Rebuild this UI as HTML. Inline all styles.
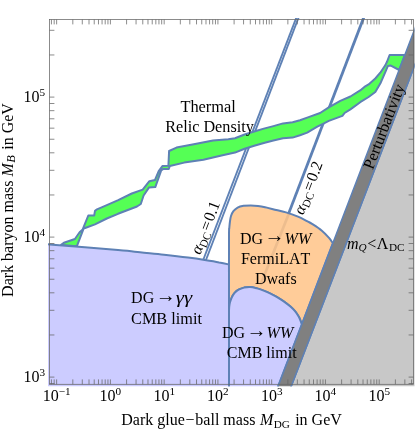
<!DOCTYPE html>
<html><head><meta charset="utf-8"><title>plot</title>
<style>html,body{margin:0;padding:0;background:#fff}svg{display:block}text{font-kerning:none}</style></head>
<body>
<svg width="417" height="430" viewBox="0 0 417 430">
<rect width="417" height="430" fill="#fff"/>
<defs><clipPath id="c"><rect x="48.0" y="18.0" width="366.5" height="368.3"/></clipPath><filter id="g" x="0" y="0" width="417" height="430" filterUnits="userSpaceOnUse" color-interpolation-filters="sRGB"><feOffset dx="0" dy="0"/></filter></defs>
<g clip-path="url(#c)" stroke-linejoin="round" stroke-linecap="butt">
<line x1="296.85" y1="16.30" x2="202.99" y2="260.50" stroke="#5E81B5" stroke-width="1.9"/>
<line x1="299.05" y1="16.30" x2="205.79" y2="260.50" stroke="#5E81B5" stroke-width="1.9"/>
<line x1="363.80" y1="16.20" x2="288.40" y2="213.00" stroke="#5E81B5" stroke-width="2.0"/>
<line x1="364.70" y1="16.20" x2="289.30" y2="213.00" stroke="#5E81B5" stroke-width="2.0"/>
<path d="M61.1,244.9 L63.9,242.8 L74.9,239.0 L79.6,232.3 L82.7,229.4 L88.3,215.5 L94.2,215.5 L95.0,210.9 L97.0,209.3 L105.1,205.9 L118.2,200.2 L131.8,193.5 L142.7,189.6 L149.4,181.2 L155.0,180.0 L158.7,171.1 L162.4,166.1 L168.4,165.8 L169.1,151.0 L176.5,147.6 L193.8,144.3 L213.0,140.5 L228.3,139.2 L235.0,138.2 L244.6,134.5 L254.2,131.5 L263.8,128.6 L273.4,126.1 L283.0,123.4 L292.6,122.2 L300.0,120.2 L308.6,117.1 L320.1,113.0 L328.8,107.3 L340.3,100.8 L350.4,96.5 L360.2,90.4 L364.4,86.9 L368.6,84.4 L375.3,78.5 L380.3,72.7 L385.4,65.1 L387.0,61.8 L389.6,55.0 L404.8,55.0 L399.2,70.0 L390.4,65.4 L387.9,65.9 L385.4,71.8 L380.3,83.6 L375.3,92.0 L368.6,97.0 L360.2,102.2 L350.4,109.4 L344.6,113.0 L342.4,115.9 L340.3,116.6 L328.8,120.9 L323.0,123.8 L317.3,126.7 L307.2,132.6 L300.0,135.2 L292.6,137.6 L283.0,138.2 L273.4,140.5 L263.8,143.0 L254.2,145.8 L244.6,148.7 L235.0,152.6 L222.6,155.3 L203.4,159.7 L184.2,162.6 L169.8,166.0 L168.8,168.9 L163.4,168.9 L161.2,170.3 L155.3,187.1 L148.9,187.6 L143.6,195.5 L140.8,204.0 L137.0,206.5 L118.0,213.8 L106.8,218.5 L95.0,224.4 L85.8,227.7 L83.6,228.6 L76.9,246.2 Z" fill="#55FF55" stroke="#5E81B5" stroke-width="2.0"/>
<path d="M45.0,244.0 C45.8,244.1 37.4,243.4 49.6,244.4 C61.8,245.4 102.9,248.8 118.0,250.1 C133.1,251.4 132.3,251.5 140.0,252.3 C147.7,253.1 156.0,253.8 164.0,254.7 C172.0,255.6 181.2,256.7 188.0,257.6 C194.8,258.5 199.5,259.2 204.7,260.0 C209.9,260.8 215.0,261.6 219.1,262.4 C223.2,263.1 227.3,264.1 229.0,264.5 L229.0,390 L45,390 Z" fill="#CCCCFF" stroke="#5E81B5" stroke-width="2.0"/>
<path d="M229.0,300.0 C229.0,289.3 228.9,248.0 229.0,236.0 C229.1,224.0 229.2,230.3 229.3,228.0 C229.5,225.7 229.6,224.0 229.9,222.0 C230.2,220.0 230.4,217.8 231.0,216.0 C231.6,214.2 232.3,212.6 233.4,211.2 C234.5,209.8 235.9,208.5 237.6,207.6 C239.3,206.7 241.4,206.2 243.6,205.8 C245.8,205.4 248.4,205.4 250.8,205.4 C253.2,205.4 255.6,205.6 258.0,205.9 C260.4,206.2 262.5,206.6 265.0,207.2 C267.5,207.8 269.5,208.3 273.0,209.2 C276.5,210.1 281.8,211.2 286.0,212.4 C290.2,213.6 294.4,215.1 298.0,216.6 C301.6,218.1 305.3,220.2 307.6,221.4 C309.9,222.6 309.7,222.3 312.0,223.8 C314.3,225.3 318.8,228.1 321.6,230.4 C324.4,232.7 326.9,235.5 328.8,237.6 C330.7,239.7 332.2,242.3 332.9,243.2 L301.8,324.5 C301.6,323.9 301.1,322.3 300.6,321.0 C300.1,319.7 299.7,318.4 298.8,316.8 C297.9,315.2 296.6,313.1 295.2,311.4 C293.8,309.7 292.2,308.2 290.4,306.6 C288.6,305.0 286.5,303.3 284.4,301.8 C282.2,300.3 279.6,298.7 277.5,297.4 C275.4,296.1 273.7,295.3 271.5,294.2 C269.3,293.1 266.7,291.9 264.3,290.9 C261.9,289.9 259.5,289.0 257.1,288.4 C254.7,287.8 252.1,287.1 249.9,287.0 C247.7,286.9 246.0,287.2 244.1,287.6 C242.2,288.1 240.2,288.8 238.6,289.7 C237.0,290.6 235.6,291.8 234.4,293.2 C233.2,294.6 232.3,296.3 231.6,297.8 C230.9,299.3 230.4,300.9 230.0,302.3 C229.6,303.7 229.5,304.7 229.3,306.0 C229.1,307.3 229.1,309.3 229.0,310.0 Z" fill="#FFCC99" stroke="#5E81B5" stroke-width="2.0"/>
<line x1="288.9" y1="213.5" x2="260.5" y2="285" stroke="#8a6a55" stroke-width="2.7" opacity="0.15"/>
<path d="M229.0,390 L229.0,310.0 C229.1,309.3 229.1,307.3 229.3,306.0 C229.5,304.7 229.6,303.7 230.0,302.3 C230.4,300.9 230.9,299.3 231.6,297.8 C232.3,296.3 233.2,294.6 234.4,293.2 C235.6,291.8 237.0,290.6 238.6,289.7 C240.2,288.8 242.2,288.1 244.1,287.6 C246.0,287.2 247.7,286.9 249.9,287.0 C252.1,287.1 254.7,287.8 257.1,288.4 C259.5,289.0 261.9,289.9 264.3,290.9 C266.7,291.9 269.3,293.1 271.5,294.2 C273.7,295.3 275.4,296.1 277.5,297.4 C279.6,298.7 282.2,300.3 284.4,301.8 C286.5,303.3 288.6,305.0 290.4,306.6 C292.2,308.2 293.8,309.7 295.2,311.4 C296.6,313.1 297.9,315.2 298.8,316.8 C299.7,318.4 300.1,319.7 300.6,321.0 C301.1,322.3 301.6,323.9 301.8,324.5 L276.7,390 Z" fill="#CCCCFF" stroke="#5E81B5" stroke-width="2.0"/>
<path d="M289.8,390 L436.0,10 L430,10 L430,390 Z" fill="#C8C8C8" stroke="#5E81B5" stroke-width="1.5"/>
<path d="M276.7,390 L422.0,10 L436.0,10 L289.8,390 Z" fill="#808080" stroke="#5E81B5" stroke-width="1.5"/>
</g>
<rect x="49.5" y="19.5" width="364.0" height="364.8" fill="none" stroke="#666" stroke-width="0.75"/>
<path d="M51.43,384.3v-4.9M51.43,19.5v4.9M54.18,384.3v-4.9M54.18,19.5v4.9M56.64,384.3v-4.9M56.64,19.5v4.9M72.82,384.3v-4.9M72.82,19.5v4.9M82.29,384.3v-4.9M82.29,19.5v4.9M89.01,384.3v-4.9M89.01,19.5v4.9M94.22,384.3v-4.9M94.22,19.5v4.9M98.47,384.3v-4.9M98.47,19.5v4.9M102.07,384.3v-4.9M102.07,19.5v4.9M105.19,384.3v-4.9M105.19,19.5v4.9M107.94,384.3v-4.9M107.94,19.5v4.9M110.40,384.3v-4.9M110.40,19.5v4.9M126.58,384.3v-4.9M126.58,19.5v4.9M136.05,384.3v-4.9M136.05,19.5v4.9M142.77,384.3v-4.9M142.77,19.5v4.9M147.98,384.3v-4.9M147.98,19.5v4.9M152.23,384.3v-4.9M152.23,19.5v4.9M155.83,384.3v-4.9M155.83,19.5v4.9M158.95,384.3v-4.9M158.95,19.5v4.9M161.70,384.3v-4.9M161.70,19.5v4.9M164.16,384.3v-4.9M164.16,19.5v4.9M180.34,384.3v-4.9M180.34,19.5v4.9M189.81,384.3v-4.9M189.81,19.5v4.9M196.53,384.3v-4.9M196.53,19.5v4.9M201.74,384.3v-4.9M201.74,19.5v4.9M205.99,384.3v-4.9M205.99,19.5v4.9M209.59,384.3v-4.9M209.59,19.5v4.9M212.71,384.3v-4.9M212.71,19.5v4.9M215.46,384.3v-4.9M215.46,19.5v4.9M217.92,384.3v-4.9M217.92,19.5v4.9M234.10,384.3v-4.9M234.10,19.5v4.9M243.57,384.3v-4.9M243.57,19.5v4.9M250.29,384.3v-4.9M250.29,19.5v4.9M255.50,384.3v-4.9M255.50,19.5v4.9M259.75,384.3v-4.9M259.75,19.5v4.9M263.35,384.3v-4.9M263.35,19.5v4.9M266.47,384.3v-4.9M266.47,19.5v4.9M269.22,384.3v-4.9M269.22,19.5v4.9M271.68,384.3v-4.9M271.68,19.5v4.9M287.86,384.3v-4.9M287.86,19.5v4.9M297.33,384.3v-4.9M297.33,19.5v4.9M304.05,384.3v-4.9M304.05,19.5v4.9M309.26,384.3v-4.9M309.26,19.5v4.9M313.51,384.3v-4.9M313.51,19.5v4.9M317.11,384.3v-4.9M317.11,19.5v4.9M320.23,384.3v-4.9M320.23,19.5v4.9M322.98,384.3v-4.9M322.98,19.5v4.9M325.44,384.3v-4.9M325.44,19.5v4.9M341.62,384.3v-4.9M341.62,19.5v4.9M351.09,384.3v-4.9M351.09,19.5v4.9M357.81,384.3v-4.9M357.81,19.5v4.9M363.02,384.3v-4.9M363.02,19.5v4.9M367.27,384.3v-4.9M367.27,19.5v4.9M370.87,384.3v-4.9M370.87,19.5v4.9M373.99,384.3v-4.9M373.99,19.5v4.9M376.74,384.3v-4.9M376.74,19.5v4.9M379.20,384.3v-4.9M379.20,19.5v4.9M395.38,384.3v-4.9M395.38,19.5v4.9M404.85,384.3v-4.9M404.85,19.5v4.9M411.57,384.3v-4.9M411.57,19.5v4.9M49.5,383.51h4.9M413.5,383.51h-4.9M49.5,377.10h4.9M413.5,377.10h-4.9M49.5,334.96h4.9M413.5,334.96h-4.9M49.5,310.30h4.9M413.5,310.30h-4.9M49.5,292.81h4.9M413.5,292.81h-4.9M49.5,279.24h4.9M413.5,279.24h-4.9M49.5,268.16h4.9M413.5,268.16h-4.9M49.5,258.79h4.9M413.5,258.79h-4.9M49.5,250.67h4.9M413.5,250.67h-4.9M49.5,243.51h4.9M413.5,243.51h-4.9M49.5,237.10h4.9M413.5,237.10h-4.9M49.5,194.96h4.9M413.5,194.96h-4.9M49.5,170.30h4.9M413.5,170.30h-4.9M49.5,152.81h4.9M413.5,152.81h-4.9M49.5,139.24h4.9M413.5,139.24h-4.9M49.5,128.16h4.9M413.5,128.16h-4.9M49.5,118.79h4.9M413.5,118.79h-4.9M49.5,110.67h4.9M413.5,110.67h-4.9M49.5,103.51h4.9M413.5,103.51h-4.9M49.5,97.10h4.9M413.5,97.10h-4.9M49.5,54.96h4.9M413.5,54.96h-4.9M49.5,30.30h4.9M413.5,30.30h-4.9" stroke="#666" stroke-width="0.75" fill="none"/>
<g font-family="Liberation Serif, serif" font-size="16" fill="#000" filter="url(#g)">
<text x="56.6" y="401.4" text-anchor="middle">10<tspan font-size="11.2" dy="-6.2">−1</tspan></text>
<text x="110.4" y="401.4" text-anchor="middle">10<tspan font-size="11.2" dy="-6.2">0</tspan></text>
<text x="164.2" y="401.4" text-anchor="middle">10<tspan font-size="11.2" dy="-6.2">1</tspan></text>
<text x="217.9" y="401.4" text-anchor="middle">10<tspan font-size="11.2" dy="-6.2">2</tspan></text>
<text x="271.7" y="401.4" text-anchor="middle">10<tspan font-size="11.2" dy="-6.2">3</tspan></text>
<text x="325.4" y="401.4" text-anchor="middle">10<tspan font-size="11.2" dy="-6.2">4</tspan></text>
<text x="379.2" y="401.4" text-anchor="middle">10<tspan font-size="11.2" dy="-6.2">5</tspan></text>
<text x="45.2" y="382.2" text-anchor="end">10<tspan font-size="11.2" dy="-6.2">3</tspan></text>
<text x="45.2" y="242.2" text-anchor="end">10<tspan font-size="11.2" dy="-6.2">4</tspan></text>
<text x="45.2" y="102.2" text-anchor="end">10<tspan font-size="11.2" dy="-6.2">5</tspan></text>
<text x="180.4" y="111.9" textLength="55.4" lengthAdjust="spacingAndGlyphs">Thermal</text>
<text x="165.2" y="131.7" textLength="88.6" lengthAdjust="spacingAndGlyphs">Relic Density</text>
<text y="303.3"><tspan x="131.1">DG </tspan><tspan x="155.7" font-size="20" dy="-1.3">→</tspan><tspan x="172.1" dy="1.3"> </tspan></text><text x="175.7" y="303.3" font-style="italic" textLength="16.4" lengthAdjust="spacingAndGlyphs">γγ</text>
<text x="131.1" y="323.9" textLength="70.8" lengthAdjust="spacingAndGlyphs">CMB limit</text>
<text y="338.1"><tspan x="222.0">DG </tspan><tspan x="246.6" font-size="20" dy="-1.3">→</tspan><tspan x="263.0" dy="1.3"> </tspan></text><text x="266.6" y="338.1" font-style="italic">WW</text>
<text x="226.8" y="357.5">CMB limit</text>
<text y="243.5"><tspan x="240.0">DG </tspan><tspan x="264.6" font-size="20" dy="-1.3">→</tspan><tspan x="281.0" dy="1.3"> </tspan></text><text x="284.6" y="243.5" font-style="italic">WW</text>
<text x="275.6" y="263.8" text-anchor="middle">FermiLAT</text>
<text x="275.8" y="283.8" text-anchor="middle">Dwafs</text>
<text x="347" y="248.6"><tspan font-style="italic">m</tspan><tspan font-style="italic" font-size="11.2" dy="2.8">Q</tspan><tspan dy="-2.8" dx="0.7">&lt;</tspan><tspan dx="0.3">Λ</tspan><tspan font-size="11.2" dy="2.8" dx="0.6">DC</tspan></text>
<text transform="translate(384.2,126.6) rotate(-69)" x="-44.8" y="5" textLength="89.6" lengthAdjust="spacingAndGlyphs">Perturbativity</text>
<text transform="translate(205.6,227.7) rotate(-69)" text-anchor="middle" y="5"><tspan font-style="italic">α</tspan><tspan font-size="11.2" dy="2.8">DC</tspan><tspan dy="-2.8" dx="1.2">=</tspan><tspan dx="1.2">0.1</tspan></text>
<text transform="translate(308.4,187.8) rotate(-69)" text-anchor="middle" y="5"><tspan font-style="italic">α</tspan><tspan font-size="11.2" dy="2.8">DC</tspan><tspan dy="-2.8" dx="1.2">=</tspan><tspan dx="1.2">0.2</tspan></text>
<text x="121.3" y="424.9">Dark glue<tspan dx="0.7">−</tspan><tspan dx="0.8">ball mass </tspan><tspan font-style="italic" dx="0.7">M</tspan><tspan font-size="11.2" dy="2.8" dx="0.3">DG</tspan><tspan dy="-2.8" dx="1.3"> in GeV</tspan></text>
<text transform="translate(13.3,296.9) rotate(-90)">Dark baryon mass <tspan font-style="italic">M</tspan><tspan font-size="12.4" dy="1.9" dx="0.4" font-style="italic">B</tspan><tspan dy="-1.9" dx="1.4"> in GeV</tspan></text>
</g>
</svg>
</body></html>
